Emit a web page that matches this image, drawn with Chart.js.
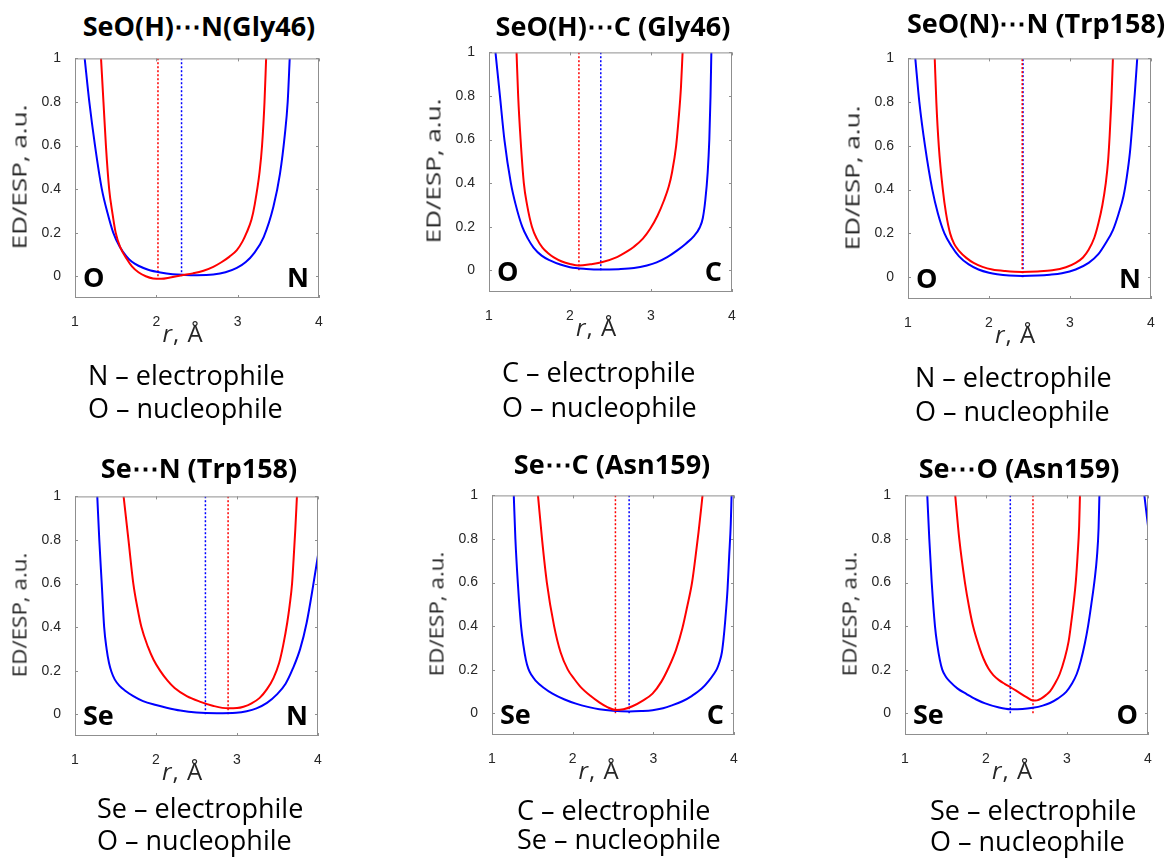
<!DOCTYPE html>
<html lang="en">
<head>
<meta charset="UTF-8">
<title>ED/ESP profiles</title>
<script src="https://cdn.jsdelivr.net/npm/chart.js"></script>
<style>
  body { margin:0; background:#fff; width:1174px; height:860px; position:relative; overflow:hidden; font-family:'Open Sans', sans-serif; color:#000; }
  canvas { position:absolute; }
  .ttl { position:absolute; font-weight:700; font-size:27px; white-space:nowrap; transform:translate(-50%,-50%); }
  .ylab { position:absolute; font-size:20px; color:#262626; white-space:nowrap; }
  .xlab { position:absolute; font-size:24px; letter-spacing:1px; color:#262626; white-space:nowrap; transform:translate(-50%,-50%); }
  .atom { position:absolute; font-weight:700; font-size:27px; white-space:nowrap; line-height:1; }
  .cap { position:absolute; font-size:27px; white-space:nowrap; transform:translateY(-50%); }
</style>
</head>
<body>
<script>
// panel texts
const titles = ['SeO(H)\u22EFN(Gly46)', 'SeO(H)\u22EFC (Gly46)', 'SeO(N)\u22EFN (Trp158)',
                'Se\u22EFN (Trp158)', 'Se\u22EFC (Asn159)', 'Se\u22EFO (Asn159)'];
const leftAtoms = ['O', 'O', 'O', 'Se', 'Se', 'Se'];
const rightAtoms = ['N', 'C', 'N', 'N', 'C', 'O'];
const electrophiles = ['N \u2013 electrophile', 'C \u2013 electrophile', 'N \u2013 electrophile',
                       'Se \u2013 electrophile', 'C \u2013 electrophile', 'Se \u2013 electrophile'];
const nucleophiles = ['O \u2013 nucleophile', 'O \u2013 nucleophile', 'O \u2013 nucleophile',
                      'O \u2013 nucleophile', 'Se \u2013 nucleophile', 'O \u2013 nucleophile'];

const xTicks = [1, 2, 3, 4];
const yTicks = [0, 0.2, 0.4, 0.6, 0.8, 1];

// positions of the dotted lines (minimum of each curve), r in Å
const redMin = [2.02, 2.11, 2.41, 2.89, 2.53, 2.58];
const blueMin = [2.31, 2.38, 2.42, 2.61, 2.70, 2.30];

// curves: [r, value]
const blue1 = [[1.119,1],[1.176,0.8],[1.246,0.6],[1.33,0.4],[1.40,0.29],[1.47,0.2],[1.55,0.135],[1.635,0.09],
  [1.70,0.066],[1.78,0.048],[1.9,0.03],[2.05,0.017],[2.2,0.009],[2.35,0.006],[2.5,0.005],[2.7,0.008],
  [2.85,0.018],[2.99,0.038],[3.1,0.065],[3.2,0.105],[3.32,0.18],[3.44,0.32],[3.52,0.47],[3.58,0.65],
  [3.615,0.8],[3.64,1]];
const red1 = [[1.32,1],[1.35,0.8],[1.38,0.6],[1.42,0.4],[1.46,0.29],[1.50,0.2],[1.56,0.13],[1.635,0.08],
  [1.70,0.045],[1.78,0.018],[1.87,0],[1.96,-0.01],[2.06,-0.012],[2.17,-0.006],[2.31,0.004],[2.45,0.013],
  [2.58,0.025],[2.70,0.043],[2.80,0.064],[2.90,0.09],[2.99,0.12],[3.06,0.16],[3.11,0.2],[3.17,0.26],
  [3.21,0.33],[3.27,0.48],[3.30,0.6],[3.33,0.8],[3.35,1]];

const blue2 = [[1.08,1],[1.135,0.8],[1.19,0.6],[1.27,0.4],[1.33,0.3],[1.41,0.2],[1.48,0.145],[1.55,0.104],
  [1.65,0.067],[1.76,0.044],[1.88,0.026],[2.0,0.014],[2.2,0.006],[2.37,0.003],[2.6,0.005],[2.79,0.01],
  [2.95,0.022],[3.07,0.036],[3.2,0.06],[3.32,0.09],[3.43,0.122],[3.53,0.157],[3.60,0.195],[3.64,0.24],
  [3.67,0.32],[3.70,0.45],[3.72,0.6],[3.735,0.8],[3.745,1]];
const red2 = [[1.34,1],[1.36,0.8],[1.39,0.6],[1.43,0.4],[1.47,0.3],[1.53,0.2],[1.59,0.145],[1.66,0.104],
  [1.73,0.078],[1.80,0.059],[1.9,0.04],[2.0,0.029],[2.11,0.022],[2.25,0.027],[2.38,0.035],[2.58,0.06],
  [2.70,0.085],[2.79,0.108],[2.9,0.145],[2.99,0.19],[3.08,0.25],[3.16,0.32],[3.22,0.385],[3.26,0.45],
  [3.31,0.57],[3.34,0.69],[3.37,0.84],[3.39,1]];

const blue3 = [[1.09,1],[1.14,0.8],[1.21,0.6],[1.30,0.4],[1.37,0.29],[1.45,0.2],[1.54,0.14],[1.63,0.095],
  [1.75,0.058],[1.87,0.035],[2.0,0.02],[2.1,0.013],[2.25,0.007],[2.41,0.005],[2.6,0.007],[2.75,0.011],
  [2.9,0.018],[3.07,0.035],[3.23,0.065],[3.35,0.105],[3.44,0.155],[3.53,0.215],[3.60,0.29],[3.66,0.37],
  [3.70,0.455],[3.74,0.57],[3.77,0.70],[3.80,0.84],[3.83,1]];
const red3 = [[1.33,1],[1.35,0.8],[1.38,0.6],[1.43,0.4],[1.47,0.29],[1.52,0.2],[1.57,0.152],[1.63,0.12],
  [1.72,0.088],[1.81,0.065],[1.92,0.047],[2.04,0.035],[2.2,0.028],[2.41,0.024],[2.6,0.026],[2.78,0.031],
  [2.95,0.045],[3.07,0.065],[3.16,0.09],[3.23,0.125],[3.30,0.18],[3.35,0.245],[3.40,0.33],[3.44,0.425],
  [3.47,0.53],[3.49,0.65],[3.51,0.8],[3.53,1]];

const blue4 = [[1.275,1],[1.30,0.8],[1.33,0.6],[1.36,0.4],[1.39,0.3],[1.42,0.235],[1.45,0.195],[1.49,0.16],
  [1.55,0.13],[1.62,0.108],[1.72,0.083],[1.84,0.06],[2.0,0.042],[2.13,0.03],[2.3,0.017],[2.5,0.008],
  [2.75,0.005],[2.99,0.007],[3.12,0.014],[3.24,0.027],[3.37,0.052],[3.49,0.09],[3.6,0.14],[3.69,0.21],
  [3.78,0.3],[3.86,0.42],[3.94,0.59],[4.0,0.73]];
const red4 = [[1.60,1],[1.66,0.8],[1.72,0.6],[1.77,0.49],[1.82,0.4],[1.9,0.31],[1.97,0.25],[2.05,0.2],
  [2.14,0.155],[2.23,0.12],[2.38,0.083],[2.54,0.058],[2.71,0.038],[2.89,0.027],[3.0,0.028],[3.08,0.034],
  [3.18,0.05],[3.28,0.075],[3.37,0.115],[3.45,0.166],[3.52,0.235],[3.57,0.316],[3.62,0.42],[3.65,0.5],
  [3.68,0.6],[3.70,0.72],[3.72,0.85],[3.74,1]];

const blue5 = [[1.27,1],[1.29,0.8],[1.32,0.6],[1.36,0.4],[1.39,0.31],[1.42,0.245],[1.45,0.205],[1.49,0.175],
  [1.54,0.15],[1.64,0.117],[1.75,0.09],[1.9,0.063],[2.04,0.044],[2.2,0.028],[2.33,0.018],[2.5,0.011],
  [2.70,0.008],[2.85,0.01],[2.99,0.014],[3.12,0.023],[3.23,0.036],[3.36,0.055],[3.48,0.08],[3.6,0.113],
  [3.69,0.15],[3.75,0.18],[3.79,0.205],[3.82,0.235],[3.85,0.28],[3.87,0.34],[3.89,0.42],[3.92,0.57],
  [3.94,0.72],[3.96,0.87],[3.97,1]];
const red5 = [[1.57,1],[1.62,0.8],[1.68,0.6],[1.77,0.4],[1.85,0.28],[1.94,0.2],[2.02,0.157],[2.10,0.12],
  [2.22,0.08],[2.33,0.05],[2.43,0.028],[2.53,0.015],[2.63,0.018],[2.74,0.032],[2.87,0.058],[2.99,0.09],
  [3.1,0.145],[3.19,0.21],[3.28,0.29],[3.36,0.39],[3.42,0.49],[3.48,0.6],[3.52,0.71],[3.56,0.83],
  [3.59,0.93],[3.61,1]];

const blue6 = [[1.275,1],[1.30,0.8],[1.33,0.6],[1.37,0.4],[1.40,0.31],[1.43,0.245],[1.46,0.2],[1.50,0.17],
  [1.555,0.145],[1.65,0.113],[1.76,0.088],[1.88,0.063],[1.99,0.045],[2.15,0.027],[2.30,0.018],[2.45,0.019],
  [2.58,0.025],[2.70,0.035],[2.79,0.047],[2.89,0.068],[2.99,0.098],[3.06,0.135],[3.12,0.18],[3.17,0.24],
  [3.22,0.32],[3.26,0.4],[3.30,0.5],[3.34,0.61],[3.37,0.72],[3.39,0.85],[3.40,1],[3.7,null],
  [3.955,1],[4.0,0.86]];
const red6 = [[1.62,1],[1.67,0.8],[1.74,0.6],[1.79,0.49],[1.84,0.4],[1.92,0.3],[1.97,0.25],[2.03,0.205],
  [2.09,0.175],[2.16,0.152],[2.23,0.135],[2.30,0.12],[2.40,0.097],[2.50,0.074],[2.58,0.058],[2.63,0.059],
  [2.68,0.067],[2.74,0.083],[2.79,0.1],[2.85,0.135],[2.91,0.18],[2.97,0.25],[3.02,0.33],[3.05,0.41],
  [3.08,0.50],[3.11,0.61],[3.13,0.72],[3.15,0.86],[3.16,1]];

const blueCurves = [blue1, blue2, blue3, blue4, blue5, blue6];
const redCurves = [red1, red2, red3, red4, red5, red6];

// layout: plot boxes in page pixels
const boxes = [
  {l: 75, t: 56, r: 319, b: 298, yk: 1.3},
  {l: 489, t: 50, r: 732, b: 292, yk: 1.3},
  {l: 908, t: 56, r: 1151, b: 299, yk: 1.3},
  {l: 75, t: 494, r: 318, b: 736, yk: 1.12},
  {l: 492, t: 493, r: 734, b: 735, yk: 1.12},
  {l: 905, t: 493, r: 1148, b: 735, yk: 1.12}
];
const titlePos = [[199, 25], [613, 25], [1036, 22], [199, 467], [612, 463], [1019, 467]];
const capPos = [[88, 374, 407], [502, 371, 406], [915, 376, 410], [97, 807, 839], [517, 809, 838], [930, 809, 840]];

const RED = 'rgb(255,0,0)';
const BLUE = 'rgb(0,0,255)';
const PAD_L = 75, PAD_T = 12, PAD_R = 12, PAD_B = 55;

const boxPlugin = {
  id: 'matlabBox',
  afterDatasetsDraw(chart) {
    const {ctx, chartArea: a, scales: {x, y}} = chart;
    ctx.save();
    ctx.strokeStyle = '#8f8f8f';
    ctx.lineWidth = 1;
    ctx.strokeRect(a.left + 0.5, a.top + 0.5, a.right - a.left - 1, a.bottom - a.top - 1);
    ctx.beginPath();
    x.ticks.forEach(t => {
      const px = Math.round(x.getPixelForValue(t.value)) + 0.5;
      ctx.moveTo(px, a.bottom); ctx.lineTo(px, a.bottom - 3);
      ctx.moveTo(px, a.top); ctx.lineTo(px, a.top + 3);
    });
    y.ticks.forEach(t => {
      const py = Math.round(y.getPixelForValue(t.value)) + 0.5;
      ctx.moveTo(a.left, py); ctx.lineTo(a.left + 3, py);
      ctx.moveTo(a.right, py); ctx.lineTo(a.right - 3, py);
    });
    ctx.stroke();
    ctx.restore();
  }
};

function addDiv(cls, html, css) {
  const d = document.createElement('div');
  d.className = cls;
  d.innerHTML = html;
  Object.assign(d.style, css);
  document.body.appendChild(d);
  return d;
}

const toPts = arr => arr.map(p => ({x: p[0], y: p[1]}));
const tickFont = {family: 'Liberation Sans', size: 14};

boxes.forEach((bx, i) => {
  const pw = bx.r - bx.l, ph = bx.b - bx.t;
  const cv = document.createElement('canvas');
  cv.width = pw + PAD_L + PAD_R;
  cv.height = ph + PAD_T + PAD_B;
  cv.style.left = (bx.l - PAD_L) + 'px';
  cv.style.top = (bx.t - PAD_T) + 'px';
  document.body.appendChild(cv);

  new Chart(cv.getContext('2d'), {
    type: 'line',
    data: {
      datasets: [
        {data: toPts(redCurves[i]), borderColor: RED, borderWidth: 2, cubicInterpolationMode: 'monotone', spanGaps: false},
        {data: toPts(blueCurves[i]), borderColor: BLUE, borderWidth: 2, cubicInterpolationMode: 'monotone', spanGaps: false},
        {data: [{x: redMin[i], y: 0}, {x: redMin[i], y: 1}], borderColor: RED, borderWidth: 1.5, borderDash: [2, 2]},
        {data: [{x: blueMin[i], y: 0}, {x: blueMin[i], y: 1}], borderColor: BLUE, borderWidth: 1.5, borderDash: [2, 2]}
      ]
    },
    options: {
      responsive: false,
      animation: false,
      devicePixelRatio: 1,
      layout: {padding: {left: 0, top: PAD_T, right: PAD_R, bottom: 0}},
      elements: {point: {radius: 0}},
      plugins: {legend: {display: false}, tooltip: {enabled: false}},
      scales: {
        x: {
          type: 'linear', min: 1, max: 4,
          afterBuildTicks: s => { s.ticks = xTicks.map(v => ({value: v})); },
          afterFit: s => { s.height = PAD_B; },
          grid: {display: false}, border: {display: false},
          ticks: {padding: 8, maxRotation: 0, color: '#262626', font: tickFont}
        },
        y: {
          type: 'linear', min: -0.1, max: 1,
          afterBuildTicks: s => { s.ticks = yTicks.map(v => ({value: v})); },
          afterFit: s => { s.width = PAD_L; },
          grid: {display: false}, border: {display: false},
          ticks: {padding: 6, color: '#262626', font: tickFont, callback: v => String(+v.toFixed(1))}
        }
      }
    },
    plugins: [boxPlugin]
  });

  // texts
  addDiv('ttl', titles[i], {left: titlePos[i][0] + 'px', top: titlePos[i][1] + 'px'});
  const yl = addDiv('ylab', 'ED/ESP, a.u.', {left: (bx.l - 56) + 'px', top: ((bx.t + bx.b) / 2) + 'px'});
  yl.style.transform = 'translate(-50%,-50%) rotate(-90deg) scaleX(' + bx.yk + ')';
  addDiv('xlab', '<i>r</i>, \u00C5', {left: ((bx.l + bx.r) / 2 - 14) + 'px', top: (bx.b + 34) + 'px'});
  const y0 = bx.t + ph / 1.1;
  const la = addDiv('atom', leftAtoms[i], {left: (bx.l + 8) + 'px', top: y0 + 'px'});
  la.style.transform = 'translateY(-50%)';
  const ra = addDiv('atom', rightAtoms[i], {left: (bx.r - 10) + 'px', top: y0 + 'px'});
  ra.style.transform = 'translate(-100%,-50%)';
  addDiv('cap', electrophiles[i], {left: capPos[i][0] + 'px', top: capPos[i][1] + 'px'});
  addDiv('cap', nucleophiles[i], {left: capPos[i][0] + 'px', top: capPos[i][2] + 'px'});
});
</script>
</body>
</html>
